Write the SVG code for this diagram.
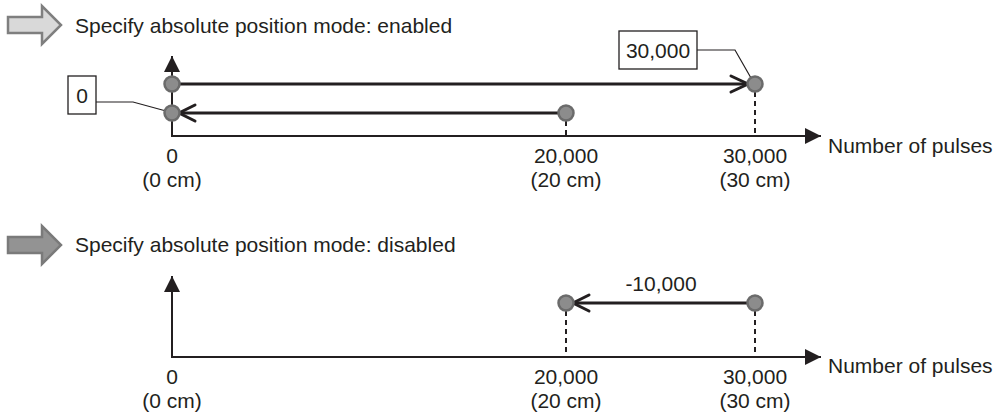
<svg xmlns="http://www.w3.org/2000/svg" width="996" height="419" viewBox="0 0 996 419">
<style>
text{font-family:"Liberation Sans",Arial,sans-serif;font-size:21px;fill:#231f20}
.mid{text-anchor:middle}
.axis{stroke:#231f20;stroke-width:2;fill:none}
.move{stroke:#231f20;stroke-width:3;fill:none}
.chev{stroke:#231f20;stroke-width:3;fill:none;stroke-linecap:round;stroke-linejoin:miter}
.dash{stroke:#231f20;stroke-width:2;stroke-dasharray:5 4;fill:none}
.pt{fill:#8c8c8c;stroke:#6b6b6b;stroke-width:2.5}
.box{fill:#fff;stroke:#231f20;stroke-width:1.3}
.lead{stroke:#231f20;stroke-width:1.2;fill:none}
</style>
<defs>
<marker id="ah" viewBox="0 0 10 10" refX="10" refY="5" markerWidth="16" markerHeight="16" markerUnits="userSpaceOnUse" orient="auto">
<path d="M0,0 L10,5 L0,10 Z" fill="#231f20"/>
</marker>
</defs>

<g id="title-enabled">
<path d="M8,17 H42 V6 L61,25 L42,44 V33 H8 Z" fill="#d9d9d9" stroke="#7f7f7f" stroke-width="2.5"/>
<text x="75" y="33">Specify absolute position mode: enabled</text>
</g>

<g id="axes-top">
<line class="axis" x1="172" y1="136" x2="172" y2="56" marker-end="url(#ah)"/>
<line class="axis" x1="171" y1="136" x2="821" y2="136" marker-end="url(#ah)"/>
<text x="828" y="153">Number of pulses</text>
<text class="mid" x="172" y="163">0</text>
<text class="mid" x="172" y="187">(0 cm)</text>
<text class="mid" x="566" y="163">20,000</text>
<text class="mid" x="566" y="187">(20 cm)</text>
<text class="mid" x="755" y="163">30,000</text>
<text class="mid" x="755" y="187">(30 cm)</text>
</g>

<g id="connectors">
<line class="move" x1="172" y1="84" x2="748" y2="84"/>
<path class="chev" d="M731,76 L748,84 L731,92"/>
<line class="move" x1="566" y1="113" x2="179" y2="113"/>
<path class="chev" d="M195,105 L179,113 L195,121"/>
<line class="dash" x1="566" y1="121" x2="566" y2="136"/>
<line class="dash" x1="755" y1="92" x2="755" y2="136"/>
<polyline class="lead" points="96,102 133,102 166,111"/>
<polyline class="lead" points="697,50 735,50 751,78"/>
<line class="move" x1="755" y1="303" x2="573" y2="303"/>
<path class="chev" d="M589,295 L573,303 L589,311"/>
<line class="dash" x1="566" y1="311" x2="566" y2="357"/>
<line class="dash" x1="755" y1="311" x2="755" y2="357"/>
</g>

<g id="point-0-top"><circle class="pt" cx="172" cy="84" r="7.5"/></g>
<g id="point-0-bottom"><circle class="pt" cx="172" cy="113" r="7.5"/></g>
<g id="point-20000-top"><circle class="pt" cx="566" cy="113" r="7.5"/></g>
<g id="point-30000-top"><circle class="pt" cx="755" cy="84" r="7.5"/></g>

<g id="callout-0">
<rect class="box" x="68" y="76" width="28" height="38"/>
<text class="mid" x="82" y="103">0</text>
</g>
<g id="callout-30000">
<rect class="box" x="619" y="31" width="78" height="38"/>
<text class="mid" x="658" y="58">30,000</text>
</g>

<g id="title-disabled">
<path d="M8,237 H42 V226 L61,245 L42,264 V253 H8 Z" fill="#939393" stroke="#7a7a7a" stroke-width="2.5"/>
<text x="75" y="252">Specify absolute position mode: disabled</text>
</g>

<g id="axes-bottom">
<line class="axis" x1="172" y1="357" x2="172" y2="276" marker-end="url(#ah)"/>
<line class="axis" x1="171" y1="357" x2="821" y2="357" marker-end="url(#ah)"/>
<text x="828" y="373">Number of pulses</text>
<text class="mid" x="172" y="384">0</text>
<text class="mid" x="172" y="408">(0 cm)</text>
<text class="mid" x="566" y="384">20,000</text>
<text class="mid" x="566" y="408">(20 cm)</text>
<text class="mid" x="755" y="384">30,000</text>
<text class="mid" x="755" y="408">(30 cm)</text>
</g>

<g id="point-20000-bottom"><circle class="pt" cx="566" cy="303" r="7.5"/></g>
<g id="point-30000-bottom"><circle class="pt" cx="755" cy="303" r="7.5"/></g>
<g id="label-minus"><text class="mid" x="661" y="291">-10,000</text></g>
</svg>
